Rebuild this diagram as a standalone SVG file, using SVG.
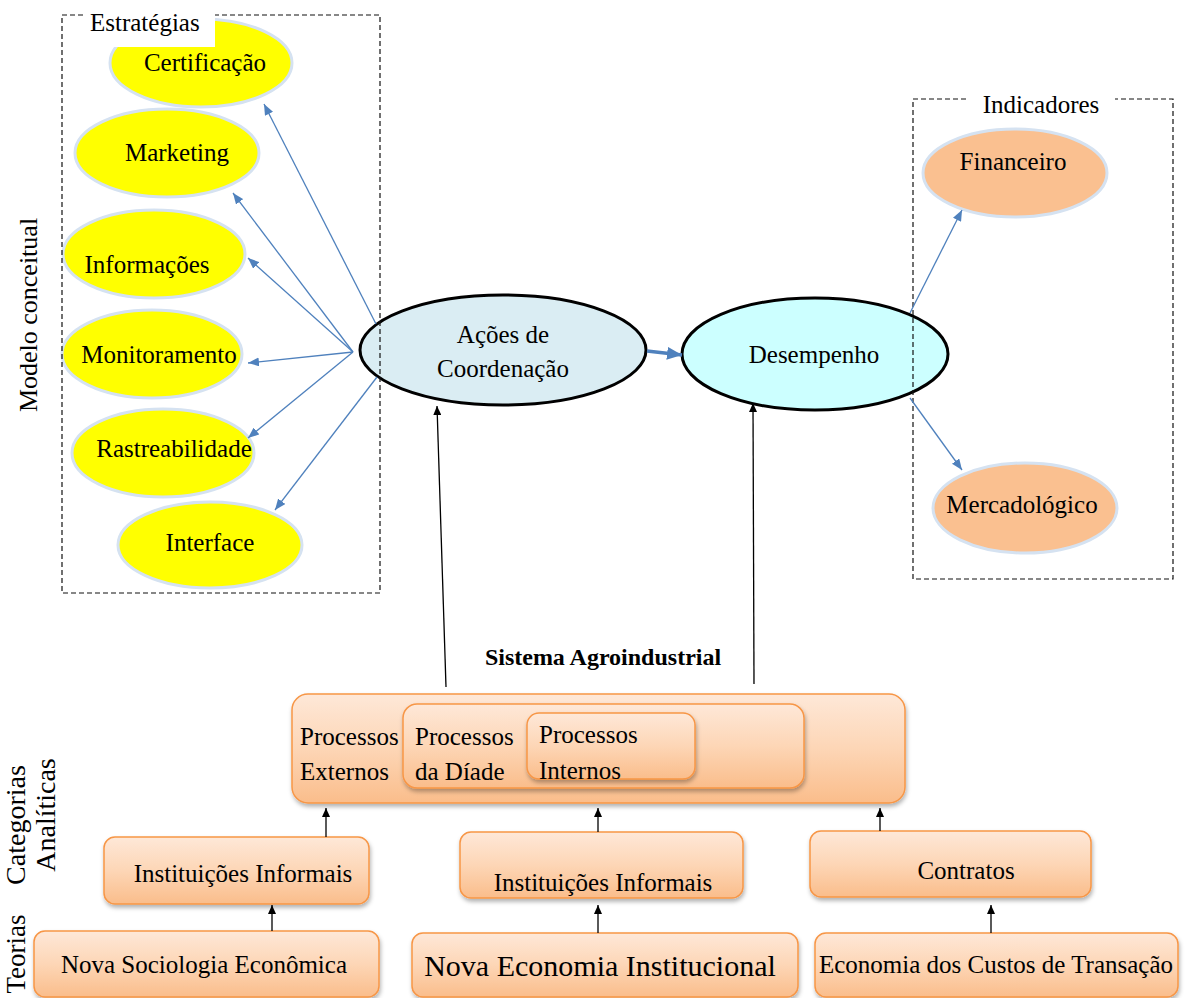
<svg xmlns="http://www.w3.org/2000/svg" width="1189" height="998" viewBox="0 0 1189 998">
<style>
text{font-family:"Liberation Serif","Times New Roman",serif;fill:#000}
.t{font-size:25px}
.c{text-anchor:middle}
.ye{fill:#ffff00;stroke:#d5e2f1;stroke-width:3}
.or{fill:#fac090;stroke:#d5e2f1;stroke-width:3}
.dash{fill:none;stroke:#111;stroke-width:1.2;stroke-dasharray:5,3}
.box{fill:url(#g);stroke:#f79646;stroke-width:1.5;filter:url(#sh)}
.bl{stroke:#4f81bd;stroke-width:1.3;fill:none;marker-end:url(#ab)}
.bk{stroke:#000;stroke-width:1.3;fill:none;marker-end:url(#ak)}
</style>
<defs>
<linearGradient id="g" x1="0" y1="0" x2="0" y2="1">
<stop offset="0" stop-color="#fee8d8"/>
<stop offset="0.5" stop-color="#fdd6b6"/>
<stop offset="1" stop-color="#fabd8b"/>
</linearGradient>
<filter id="sh" x="-5%" y="-10%" width="110%" height="130%">
<feDropShadow dx="1" dy="3" stdDeviation="2" flood-color="#000" flood-opacity="0.3"/>
</filter>
<marker id="ab" markerUnits="userSpaceOnUse" markerWidth="11" markerHeight="9" refX="11" refY="4.5" orient="auto"><path d="M0,0 L11,4.5 L0,9 z" fill="#4f81bd"/></marker>
<marker id="abig" markerUnits="userSpaceOnUse" markerWidth="15" markerHeight="13" refX="15" refY="6.5" orient="auto"><path d="M0,0 L15,6.5 L0,13 z" fill="#4f81bd"/></marker>
<marker id="ak" markerUnits="userSpaceOnUse" markerWidth="9" markerHeight="8" refX="9" refY="4" orient="auto"><path d="M0,0 L9,4 L0,8 z" fill="#000"/></marker>
</defs>
<rect width="1189" height="998" fill="#fff"/>

<!-- side labels -->
<text transform="translate(37,315) rotate(-90)" text-anchor="middle" style="font-size:26px">Modelo conceitual</text>
<text transform="translate(25,825) rotate(-90)" text-anchor="middle" style="font-size:28px">Categorias</text>
<text transform="translate(55,815) rotate(-90)" text-anchor="middle" style="font-size:28px">Analíticas</text>
<text transform="translate(25,954) rotate(-90)" text-anchor="middle" style="font-size:27px">Teorias</text>

<!-- strategies -->
<g id="certificacao"><ellipse class="ye" cx="201" cy="63" rx="91" ry="44"/><text class="t c" x="205" y="71">Certificação</text></g>
<g id="marketing"><ellipse class="ye" cx="167" cy="153" rx="92" ry="44"/><text class="t c" x="177" y="161">Marketing</text></g>
<g id="informacoes"><ellipse class="ye" cx="154" cy="254" rx="91" ry="44"/><text class="t c" x="147" y="273">Informações</text></g>
<g id="monitoramento"><ellipse class="ye" cx="152" cy="354" rx="90" ry="44"/><text class="t c" x="159" y="363">Monitoramento</text></g>
<g id="rastreabilidade"><ellipse class="ye" cx="163" cy="453" rx="91" ry="44"/><text class="t c" x="174" y="457">Rastreabilidade</text></g>
<g id="interface"><ellipse class="ye" cx="210" cy="545" rx="92" ry="43"/><text class="t c" x="210" y="551">Interface</text></g>

<!-- indicators -->
<g id="financeiro"><ellipse class="or" cx="1015" cy="173" rx="92" ry="44"/><text class="t c" x="1013" y="170">Financeiro</text></g>
<g id="mercadologico"><ellipse class="or" cx="1025" cy="508" rx="92" ry="45"/><text class="t c" x="1022" y="513">Mercadológico</text></g>

<!-- central -->
<g id="acoes"><ellipse cx="503" cy="350" rx="143" ry="55" fill="#daedf3" stroke="#000" stroke-width="3"/><text class="t c" x="503" y="343">Ações de</text><text class="t c" x="503" y="377">Coordenação</text></g>
<g id="desempenho"><ellipse cx="815" cy="354" rx="133" ry="56" fill="#ccffff" stroke="#000" stroke-width="3"/><text class="t c" x="814" y="363">Desempenho</text></g>

<!-- dashed groups -->
<g id="estrategias">
<rect class="dash" x="62" y="15" width="318" height="578"/>
<rect x="83" y="13" width="132" height="34" fill="#fff"/>
<text x="90" y="31" style="font-size:25px">Estratégias</text>
</g>
<g id="indicadores">
<rect class="dash" x="913" y="99" width="260" height="480"/>
<rect x="967" y="94" width="148" height="12" fill="#fff"/>
<text class="c" x="1041" y="113" style="font-size:25px">Indicadores</text>
</g>

<!-- sistema agroindustrial -->
<text x="603" y="665" text-anchor="middle" style="font-size:24px;font-weight:bold">Sistema Agroindustrial</text>
<g id="externos"><rect class="box" x="292" y="694" width="613" height="109" rx="16"/><text class="t" x="300" y="745">Processos</text><text class="t" x="300" y="780">Externos</text></g>
<g id="diade"><rect class="box" x="403" y="704" width="401" height="84" rx="14"/><text class="t" x="415" y="745">Processos</text><text class="t" x="415" y="780">da Díade</text></g>
<g id="internos"><rect class="box" x="527" y="713" width="168" height="66" rx="12"/><text class="t" x="539" y="743">Processos</text><text class="t" x="539" y="779">Internos</text></g>

<!-- categories -->
<g id="inst1"><rect class="box" x="104" y="837" width="265" height="67" rx="11"/><text class="t c" x="243" y="882">Instituições Informais</text></g>
<g id="inst2"><rect class="box" x="460" y="832" width="283" height="66" rx="11"/><text class="t c" x="603" y="891">Instituições Informais</text></g>
<g id="contratos"><rect class="box" x="810" y="831" width="281" height="66" rx="11"/><text class="t c" x="966" y="879">Contratos</text></g>

<!-- theories -->
<g id="nse"><rect class="box" x="34" y="931" width="345" height="66" rx="11"/><text class="t c" x="204" y="973">Nova Sociologia Econômica</text></g>
<g id="nei"><rect class="box" x="412" y="933" width="386" height="64" rx="11"/><text class="c" x="600" y="976" style="font-size:30px">Nova Economia Institucional</text></g>
<g id="ect"><rect class="box" x="815" y="933" width="363" height="64" rx="11"/><text class="t c" x="996" y="973">Economia dos Custos de Transação</text></g>

<!-- connectors -->
<g id="connectors">
<line class="bl" x1="376" y1="324" x2="264" y2="104"/>
<line class="bl" x1="353" y1="352" x2="233" y2="193"/>
<line class="bl" x1="353" y1="352" x2="248" y2="258"/>
<line class="bl" x1="353" y1="352" x2="248" y2="363"/>
<line class="bl" x1="353" y1="352" x2="248" y2="438"/>
<line class="bl" x1="377" y1="377" x2="275" y2="510"/>
<line x1="647" y1="351" x2="682" y2="355" stroke="#4f81bd" stroke-width="3.5" marker-end="url(#abig)"/>
<line class="bl" x1="910" y1="313" x2="962" y2="210"/>
<line class="bl" x1="910" y1="398" x2="962" y2="470"/>
<line class="bk" x1="446" y1="687" x2="437" y2="406"/>
<line class="bk" x1="754" y1="684" x2="753" y2="403"/>
<line class="bk" x1="326" y1="837" x2="326" y2="808"/>
<line class="bk" x1="598" y1="832" x2="598" y2="808"/>
<line class="bk" x1="880" y1="831" x2="880" y2="808"/>
<line class="bk" x1="272" y1="931" x2="272" y2="905"/>
<line class="bk" x1="598" y1="933" x2="598" y2="905"/>
<line class="bk" x1="991" y1="933" x2="991" y2="905"/>
</g>
</svg>
